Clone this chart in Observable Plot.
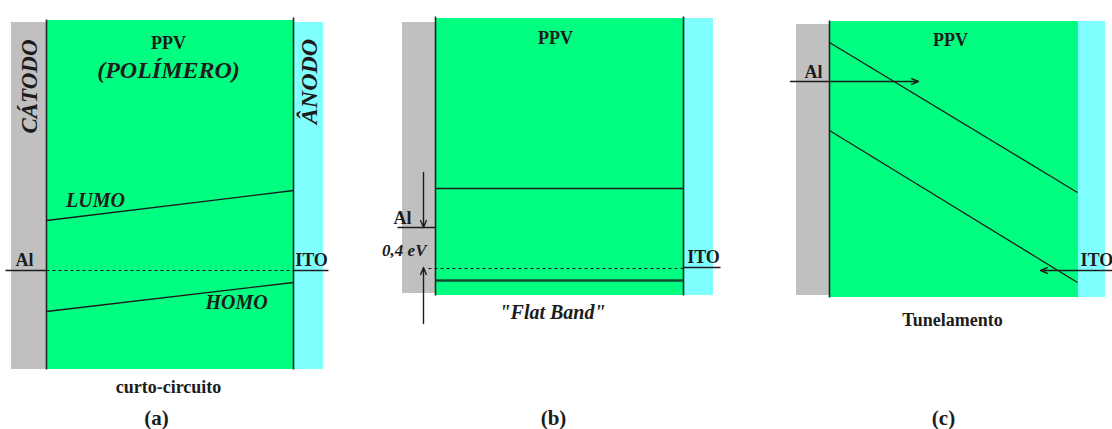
<!DOCTYPE html>
<html>
<head>
<meta charset="utf-8">
<script src="https://cdn.jsdelivr.net/npm/d3@7"></script>
<script src="https://cdn.jsdelivr.net/npm/@observablehq/plot@0.6"></script>
<style>
  html, body { margin: 0; padding: 0; background: #ffffff; }
</style>
</head>
<body>
<div id="chart"></div>
<script>
// Diagram coordinates (x to the right, y downward, in figure units)
const materials = ["Al", "PPV", "ITO"];
const materialColors = ["#c0c0c0", "#00ff80", "#80ffff"];

const layers = [
  {panel: "a", material: "Al",  x1: 11,  x2: 46,   y1: 22, y2: 369},
  {panel: "a", material: "PPV", x1: 46,  x2: 293,  y1: 20, y2: 369},
  {panel: "a", material: "ITO", x1: 293, x2: 323,  y1: 22, y2: 369},
  {panel: "b", material: "Al",  x1: 402, x2: 435,  y1: 22, y2: 293},
  {panel: "b", material: "PPV", x1: 435, x2: 683,  y1: 18, y2: 295},
  {panel: "b", material: "ITO", x1: 683, x2: 713,  y1: 18, y2: 295},
  {panel: "c", material: "Al",  x1: 796, x2: 829,  y1: 24, y2: 295},
  {panel: "c", material: "PPV", x1: 829, x2: 1077, y1: 21, y2: 297},
  {panel: "c", material: "ITO", x1: 1077, x2: 1105, y1: 21, y2: 297}
];

const interfaces = [
  {panel: "a", x1: 46,   y1: 19, x2: 46,   y2: 369},
  {panel: "a", x1: 293,  y1: 17, x2: 293,  y2: 369},
  {panel: "b", x1: 435,  y1: 16, x2: 435,  y2: 295},
  {panel: "b", x1: 683,  y1: 16, x2: 683,  y2: 295},
  {panel: "c", x1: 829,  y1: 20, x2: 829,  y2: 297}
];
const softInterfaces = [
  {panel: "c", x1: 1077, y1: 21, x2: 1077, y2: 297}
];

// Energy levels (LUMO / HOMO / Fermi reference lines)
const levels = [
  {panel: "a", name: "LUMO",  x1: 46,  y1: 220, x2: 293,  y2: 190},
  {panel: "a", name: "HOMO",  x1: 46,  y1: 311, x2: 293,  y2: 282},
  {panel: "a", name: "Al",    x1: 5,   y1: 270, x2: 46,   y2: 270},
  {panel: "a", name: "ITO",   x1: 293, y1: 270, x2: 328,  y2: 270},
  {panel: "b", name: "LUMO",  x1: 435, y1: 188, x2: 683,  y2: 188},
  {panel: "b", name: "Al",    x1: 397, y1: 227, x2: 435,  y2: 227},
  {panel: "b", name: "ITO",   x1: 683, y1: 267, x2: 720,  y2: 267},
  {panel: "c", name: "LUMO",  x1: 829, y1: 42,  x2: 1077, y2: 192},
  {panel: "c", name: "HOMO",  x1: 829, y1: 130, x2: 1077, y2: 282}
];
const thickLevels = [
  {panel: "b", name: "HOMO",  x1: 435, y1: 280, x2: 683,  y2: 280}
];
const dashedLevels = [
  {panel: "a", name: "Fermi", x1: 46,  y1: 270, x2: 293,  y2: 270},
  {panel: "b", name: "Fermi", x1: 428, y1: 268, x2: 683,  y2: 268}
];

const arrows = [
  {panel: "b", x1: 423,  y1: 172, x2: 423,  y2: 227},
  {panel: "b", x1: 423,  y1: 323, x2: 423,  y2: 267},
  {panel: "c", x1: 790,  y1: 81,  x2: 918,  y2: 81},
  {panel: "c", x1: 1112, y1: 270, x2: 1040, y2: 270}
];

// Text labels (y = baseline)
const plainLabels = [
  {text: "PPV", x: 168, y: 48,  anchor: "middle"},
  {text: "PPV", x: 555, y: 43,  anchor: "middle"},
  {text: "PPV", x: 950, y: 45,  anchor: "middle"},
  {text: "Al",  x: 24,  y: 265, anchor: "middle"},
  {text: "ITO", x: 311, y: 265, anchor: "middle"},
  {text: "Al",  x: 402, y: 223, anchor: "middle"},
  {text: "ITO", x: 703, y: 262, anchor: "middle"},
  {text: "Al",  x: 813, y: 77,  anchor: "middle"},
  {text: "ITO", x: 1080, y: 265, anchor: "start"}
];
const boldLabels = [
  {text: "curto-circuito", x: 168, y: 392, size: 18},
  {text: "Tunelamento",    x: 952, y: 325, size: 18},
  {text: "(a)",            x: 156, y: 424, size: 21},
  {text: "(b)",            x: 553, y: 424, size: 21},
  {text: "(c)",            x: 943, y: 424, size: 21}
];
const italicLabels = [
  {text: "(POLÍMERO)",    x: 168, y: 77,  size: 24, anchor: "middle"},
  {text: "LUMO",          x: 95,  y: 206, size: 20, anchor: "middle"},
  {text: "HOMO",          x: 236, y: 308, size: 20, anchor: "middle"},
  {text: "\"Flat Band\"", x: 552, y: 318, size: 20, anchor: "middle"},
  {text: "0,4 eV",        x: 426, y: 255, size: 17, anchor: "end"}
];
const electrodeLabels = [
  {text: "CÁTODO", x: 29,  y: 86, size: 23},
  {text: "ÂNODO",  x: 309, y: 81, size: 24}
];

const serif = "Liberation Serif, Times New Roman, serif";
const ink = "#1c1c1c";

const chart = Plot.plot({
  width: 1112,
  height: 429,
  margin: 0,
  style: {background: "#ffffff", fontFamily: serif},
  x: {domain: [0, 1112], axis: null},
  y: {domain: [0, 429], reverse: true, axis: null},
  color: {domain: materials, range: materialColors},
  marks: [
    Plot.rect(layers, {x1: "x1", x2: "x2", y1: "y1", y2: "y2", fill: "material"}),
    Plot.link(interfaces, {x1: "x1", y1: "y1", x2: "x2", y2: "y2", stroke: "#1a2a20", strokeWidth: 1.6}),
    Plot.link(softInterfaces, {x1: "x1", y1: "y1", x2: "x2", y2: "y2", stroke: "#7fbfa0", strokeWidth: 1}),
    Plot.link(levels, {x1: "x1", y1: "y1", x2: "x2", y2: "y2", stroke: ink, strokeWidth: 1.3}),
    Plot.link(thickLevels, {x1: "x1", y1: "y1", x2: "x2", y2: "y2", stroke: "#144a2c", strokeWidth: 2.6}),
    Plot.link(dashedLevels, {x1: "x1", y1: "y1", x2: "x2", y2: "y2", stroke: ink, strokeWidth: 1.2, strokeDasharray: "3,3"}),
    Plot.arrow(arrows, {x1: "x1", y1: "y1", x2: "x2", y2: "y2", stroke: ink, strokeWidth: 1.4, headLength: 8, headAngle: 45}),
    Plot.text(plainLabels.filter(d => d.anchor === "middle"), {x: "x", y: "y", text: "text", fontSize: 18, fill: ink, lineAnchor: "bottom", fontWeight: "bold", fontFamily: serif}),
    Plot.text(plainLabels.filter(d => d.anchor === "start"), {x: "x", y: "y", text: "text", fontSize: 18, fill: ink, lineAnchor: "bottom", textAnchor: "start", fontWeight: "bold", fontFamily: serif}),
    Plot.text(boldLabels, {x: "x", y: "y", text: "text", fontSize: "size", fill: ink, lineAnchor: "bottom", fontWeight: "bold", fontFamily: serif}),
    Plot.text(italicLabels.filter(d => d.anchor === "middle"), {x: "x", y: "y", text: "text", fontSize: "size", fill: ink, lineAnchor: "bottom", fontWeight: "bold", fontStyle: "italic", fontFamily: serif}),
    Plot.text(italicLabels.filter(d => d.anchor === "end"), {x: "x", y: "y", text: "text", fontSize: "size", fill: ink, lineAnchor: "bottom", textAnchor: "end", fontWeight: "bold", fontStyle: "italic", fontFamily: serif}),
    Plot.text(electrodeLabels, {x: "x", y: "y", text: "text", fontSize: "size", fill: ink, rotate: -90, fontWeight: "bold", fontStyle: "italic", fontFamily: serif})
  ]
});

document.getElementById("chart").appendChild(chart);
</script>
</body>
</html>
